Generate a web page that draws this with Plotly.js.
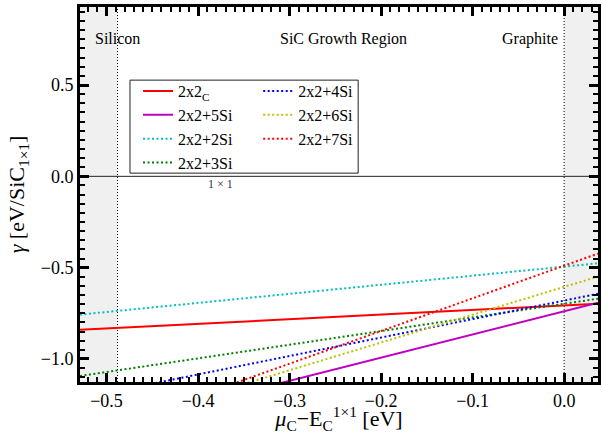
<!DOCTYPE html>
<html>
<head>
<meta charset="utf-8">
<script src="https://cdn.plot.ly/plotly-3.0.1.min.js"></script>
<style>html,body{margin:0;padding:0;background:#fff;}#chart{width:602px;height:434px;}</style>
</head>
<body>
<div id="chart"></div>
<script>
// Chemical potential range (x) at which each line is read
const muEnds = [-0.529, 0.037];

// Surface energies read at the two ends of the axis
const series = [
  {name: "2x2<sub>C</sub>", y: [-0.84, -0.697], color: "#ff0000", dash: "solid", legend: "legend"},
  {name: "2x2+5Si", y: [-1.41, -0.692], color: "#bf00bf", dash: "solid", legend: "legend"},
  {name: "2x2+2Si", y: [-0.757, -0.476], color: "#00bfbf", dash: "dot", legend: "legend"},
  {name: "2x2+3Si", y: [-1.093, -0.670], color: "#008000", dash: "dot", legend: "legend"},
  {name: "2x2+4Si", y: [-1.215, -0.643], color: "#0000ff", dash: "dot", legend: "legend2"},
  {name: "2x2+6Si", y: [-1.41, -0.549], color: "#bfbf00", dash: "dot", legend: "legend2"},
  {name: "2x2+7Si", y: [-1.435, -0.423], color: "#ff0000", dash: "dot", legend: "legend2"}
];

const xTickStep = 0.1, xMinorStep = 0.01;
const yTickStep = 0.5, yMinorStep = 0.05;

const siliconLimit = -0.488;
const graphiteLimit = 0.0;
const xRange = [-0.529, 0.037];
const yRange = [-1.126, 0.927];

const FONT = "'Liberation Serif', 'DejaVu Serif', serif";

const traces = series.map(s => ({
  x: muEnds,
  y: s.y,
  type: "scatter",
  mode: "lines",
  name: s.name,
  legend: s.legend,
  line: {color: s.color, width: 2, dash: s.dash === "dot" ? "2px,2.5px" : "solid"}
}));

const axisCommon = {
  showline: true, linecolor: "#000", linewidth: 3, mirror: "allticks",
  ticks: "inside", ticklen: 9, tickwidth: 3, tickcolor: "#000",
  showgrid: false, zeroline: false,
  tickformat: ".1f",
  tickfont: {family: FONT, size: 18, color: "#000"}
};

const layout = {
  width: 602, height: 434,
  margin: {l: 80, r: 4, t: 7, b: 52},
  xaxis: Object.assign({}, axisCommon, {
    range: xRange, dtick: xTickStep,
    minor: {dtick: xMinorStep, ticks: "inside", ticklen: 5, tickwidth: 2, tickcolor: "#000"},
    title: {text: "<i>μ</i><sub>C</sub>−E<sub>C</sub><sup>1×1</sup> [eV]", font: {family: FONT, size: 22, color: "#000"}}
  }),
  yaxis: Object.assign({}, axisCommon, {
    range: yRange, dtick: yTickStep,
    minor: {dtick: yMinorStep, ticks: "inside", ticklen: 5, tickwidth: 2, tickcolor: "#000"},
    title: {text: "<i>γ</i> [eV/SiC<sub>1×1</sub>]", font: {family: FONT, size: 22, color: "#000"}}
  }),
  showlegend: true,
  legend: {x: 0.112, y: 0.821, xanchor: "left", yanchor: "top", bgcolor: "rgba(0,0,0,0)", borderwidth: 0,
           font: {family: FONT, size: 16, color: "#000"}, tracegroupgap: 0},
  legend2: {x: 0.344, y: 0.821, xanchor: "left", yanchor: "top", bgcolor: "rgba(0,0,0,0)", borderwidth: 0,
            font: {family: FONT, size: 16, color: "#000"}, tracegroupgap: 0},
  shapes: [
    {type: "rect", xref: "x", yref: "y", x0: xRange[0], x1: siliconLimit, y0: yRange[0], y1: yRange[1],
     fillcolor: "#f0f0f0", line: {width: 0}, layer: "below"},
    {type: "rect", xref: "x", yref: "y", x0: graphiteLimit, x1: xRange[1], y0: yRange[0], y1: yRange[1],
     fillcolor: "#f0f0f0", line: {width: 0}, layer: "below"},
    {type: "line", xref: "x", yref: "y", x0: siliconLimit, x1: siliconLimit, y0: yRange[0], y1: yRange[1],
     line: {color: "#000", width: 1, dash: "1px,2px"}, layer: "below"},
    {type: "line", xref: "x", yref: "y", x0: graphiteLimit, x1: graphiteLimit, y0: yRange[0], y1: yRange[1],
     line: {color: "#000", width: 1, dash: "1px,2px"}, layer: "below"},
    {type: "line", xref: "x", yref: "y", x0: xRange[0], x1: xRange[1], y0: 0, y1: 0,
     line: {color: "#222", width: 1}, layer: "below"},
    {type: "rect", xref: "paper", yref: "paper", x0: 0.0965, x1: 0.537, y0: 0.557, y1: 0.805,
     fillcolor: "rgba(255,255,255,0)", line: {color: "#222", width: 1}, layer: "above"}
  ],
  annotations: [
    {text: "Silicon", xref: "x", yref: "paper", x: -0.4875, y: 0.944, showarrow: false,
     font: {family: FONT, size: 16, color: "#000"}, xanchor: "center"},
    {text: "SiC Growth Region", xref: "paper", yref: "paper", x: (343 - 80) / 518, y: 0.944, showarrow: false,
     font: {family: FONT, size: 16, color: "#000"}},
    {text: "Graphite", xref: "paper", yref: "paper", x: (560 - 80) / 518, y: 0.944, showarrow: false,
     font: {family: FONT, size: 16, color: "#000"}},
    {text: "1 × 1", xref: "x", yref: "y", x: -0.376, y: -0.044, showarrow: false,
     font: {family: FONT, size: 12, color: "#333"}}
  ]
};

Plotly.newPlot("chart", traces, layout, {displayModeBar: false});
</script>
</body>
</html>
